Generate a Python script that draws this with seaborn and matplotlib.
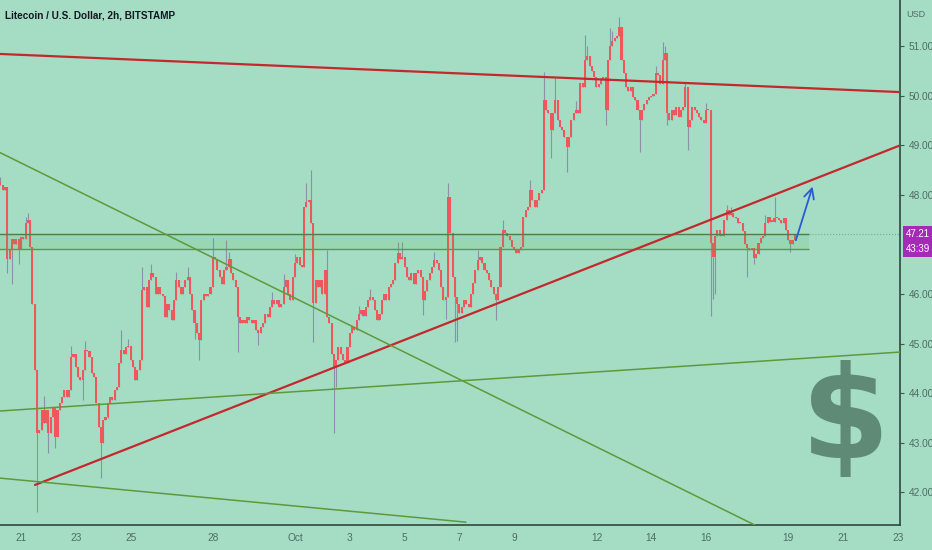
import numpy as np
import pandas as pd
import seaborn as sns
import matplotlib.pyplot as plt
import matplotlib.transforms as mtransforms

# LTC/USD 2h закрытия (с 20 сентября 06:00)
closes = [
    48.20, 48.10, 48.15, 46.70, 46.90, 47.10, 47.00, 47.10, 46.90, 47.15, 47.10, 47.43,
    47.50, 46.95, 45.80, 44.47, 43.20, 43.25, 43.66, 43.40, 43.66, 43.20, 43.52, 43.72,
    43.12, 43.66, 43.80, 43.92, 44.06, 43.92, 44.06, 44.73, 44.80, 44.53, 44.33, 44.27,
    44.47, 44.87, 44.85, 44.73, 44.40, 44.33, 43.80, 43.32, 43.00, 43.46, 43.52, 43.80,
    43.92, 43.86, 44.06, 44.12, 44.60, 44.87, 44.80, 44.93, 44.96, 44.67, 44.53, 44.27,
    44.47, 44.67, 46.08, 46.14, 45.74, 46.28, 46.42, 46.35, 46.00, 46.14, 46.00, 45.95,
    45.53, 45.80, 45.67, 45.47, 45.88, 46.28, 46.14, 46.00, 46.14, 46.28, 46.35, 46.00,
    45.67, 45.41, 45.21, 45.07, 45.88, 46.00, 45.95, 46.00, 46.14, 46.75, 46.70, 46.48,
    46.35, 46.20, 46.48, 46.55, 46.70, 46.42, 46.28, 46.14, 45.53, 45.41, 45.47, 45.41,
    45.53, 45.47, 45.41, 45.47, 45.27, 45.21, 45.34, 45.41, 45.60, 45.53, 45.74, 45.88,
    45.80, 45.88, 45.74, 45.80, 46.14, 46.28, 46.00, 45.88, 46.35, 46.62, 46.75, 46.58,
    46.55, 47.75, 47.86, 47.90, 47.43, 45.82, 46.28, 46.14, 46.28, 46.00, 46.48, 45.53,
    45.41, 44.80, 44.53, 44.67, 44.93, 44.80, 44.67, 44.60, 44.93, 45.21, 45.33, 45.27,
    45.47, 45.60, 45.68, 45.55, 45.74, 45.88, 45.94, 45.88, 45.68, 45.47, 45.60, 45.88,
    46.00, 45.88, 46.14, 46.20, 46.28, 46.62, 46.82, 46.70, 46.75, 46.55, 46.34, 46.28,
    46.42, 46.20, 46.42, 46.48, 46.34, 45.88, 46.07, 46.28, 46.42, 46.55, 46.68, 46.62,
    46.48, 46.14, 45.88, 45.94, 47.95, 47.23, 46.34, 45.94, 45.80, 45.62, 45.74, 45.88,
    45.80, 45.74, 46.00, 46.22, 46.48, 46.68, 46.75, 46.62, 46.48, 46.42, 46.28, 46.14,
    46.00, 45.88, 46.14, 46.95, 47.29, 47.22, 47.16, 47.09, 46.95, 46.89, 46.82, 46.89,
    46.95, 47.55, 47.69, 47.76, 48.10, 47.90, 47.76, 47.90, 48.03, 48.10, 49.91, 49.70,
    49.64, 49.30, 49.64, 49.91, 49.50, 49.37, 49.30, 49.17, 48.96, 49.17, 49.50, 49.64,
    49.70, 49.64, 50.25, 50.17, 50.72, 50.79, 50.60, 50.50, 50.38, 50.17, 50.24, 50.31,
    50.38, 49.70, 50.72, 51.00, 51.10, 51.17, 51.20, 51.39, 50.72, 50.45, 50.17, 50.10,
    50.17, 49.97, 49.91, 49.71, 49.50, 49.71, 49.84, 49.91, 49.97, 50.00, 50.04, 50.45,
    50.42, 50.24, 50.72, 50.86, 49.64, 49.50, 49.71, 49.60, 49.77, 49.57, 49.71, 49.77,
    50.17, 49.37, 49.50, 49.77, 49.71, 49.64, 49.57, 49.50, 49.44, 49.71, 49.71, 47.03,
    46.75, 47.16, 47.30, 47.16, 47.16, 47.49, 47.70, 47.60, 47.63, 47.56, 47.53, 47.43,
    47.43, 47.26, 47.00, 46.93, 46.89, 46.93, 46.73, 46.80, 47.03, 47.13, 47.16, 47.43,
    47.56, 47.46, 47.46, 47.53, 47.53, 47.49, 47.43, 47.53, 47.30, 47.09, 47.00, 47.09,
    47.21,
]
first_open = 48.25

# заметные тени свечей (индекс свечи -> цена)
wick_hi_idx = [0, 11, 12, 19, 31, 37, 53, 56, 62, 66, 77, 82, 93, 99, 100, 119, 124, 129,
               134, 136, 143, 157, 162, 174, 176, 190, 196, 209, 220, 232, 238, 243, 252,
               256, 257, 267, 268, 271, 287, 290, 291, 300, 309, 318, 320, 335, 339]
wick_hi_val = [48.35, 47.55, 47.63, 43.95, 44.95, 45.05, 45.27, 45.10, 46.55, 46.60, 46.45,
               46.55, 47.13, 47.09, 46.85, 46.05, 46.40, 46.80, 48.24, 48.50, 46.89, 45.75,
               46.10, 47.05, 47.05, 46.85, 48.24, 46.89, 47.49, 48.30, 50.48, 50.35, 49.90,
               51.22, 51.00, 51.36, 51.30, 51.58, 50.60, 51.08, 51.00, 50.25, 49.85, 47.80,
               47.75, 47.60, 47.96]
wick_lo_idx = [3, 5, 8, 16, 21, 24, 36, 44, 47, 85, 87, 104, 113, 137, 146, 147, 185, 195,
               199, 200, 217, 241, 248, 265, 280, 292, 301, 311, 312, 313, 327, 330, 346]
wick_lo_val = [46.42, 46.20, 46.60, 41.60, 42.80, 42.90, 43.86, 42.30, 43.50, 45.10, 44.67,
               44.83, 44.97, 45.03, 43.20, 44.12, 45.58, 45.50, 45.03, 45.05, 45.47, 48.74,
               48.46, 49.40, 48.86, 49.40, 48.90, 45.55, 45.90, 46.00, 46.34, 46.60, 46.85]

# подписи оси времени (дни от 21 сентября)
tick_days = [0, 2, 4, 7, 10, 12, 14, 16, 18, 21, 23, 25, 28, 30, 32]
tick_labels = ['21', '23', '25', '28', 'Oct', '3', '5', '7', '9', '12', '14', '16', '19', '21', '23']
price_ticks = [42, 43, 44, 45, 46, 48, 49, 50, 51]

# линии разметки (день, цена)
red_top_x, red_top_y = [-0.8, 32.1], [50.84, 50.07]
red_up_x, red_up_y = [0.51, 32.1], [42.15, 49.00]
green_steep_x, green_steep_y = [-0.8, 26.79], [48.86, 41.34]
green_flat_x, green_flat_y = [-0.8, 32.1], [43.64, 44.83]
green_low_x, green_low_y = [-0.8, 16.24], [42.29, 41.40]
zone_x, zone_y = [-0.8, 28.76], [46.91, 47.21]
arrow_from, arrow_to = (28.25, 47.03), (28.92, 48.22)
last_price = 47.21
countdown = '43:39'

bg = '#a4dcc4'
sns.set_theme(style='white')
plt.rcParams['font.family'] = ['Liberation Sans', 'DejaVu Sans']

times = pd.date_range('2018-09-20 06:00', periods=len(closes), freq='2h')
df = pd.DataFrame({'close': closes}, index=times)
df['day'] = (df.index - pd.Timestamp('2018-09-21')) / pd.Timedelta(days=1)
df['open'] = df['close'].shift(1).fillna(first_open)
df['high'] = df[['open', 'close']].max(axis=1)
df['low'] = df[['open', 'close']].min(axis=1)
pos = df.columns.get_loc
for i, v in zip(wick_hi_idx, wick_hi_val):
    df.iloc[i, pos('high')] = max(v, df.iloc[i, pos('high')])
for i, v in zip(wick_lo_idx, wick_lo_val):
    df.iloc[i, pos('low')] = min(v, df.iloc[i, pos('low')])

fig = plt.figure(figsize=(9.32, 5.5), dpi=100, facecolor=bg)
ax = fig.add_axes([0, 25 / 550, 900 / 932, 525 / 550])
ax.set_facecolor(bg)

# свечи
body = (df['close'] - df['open']).abs().clip(lower=0.025)
ax.vlines(df['day'], df['low'], df['high'], color='#8c90a8', lw=0.8, zorder=2)
ax.bar(df['day'], body, bottom=df[['open', 'close']].min(axis=1), width=0.075,
       color='#f0575a', linewidth=0, zorder=3)

# зона
ax.fill_between(zone_x, zone_y[0], zone_y[1], color='#4caf50', alpha=0.13, lw=0, zorder=4)
ax.hlines(zone_y[1], *zone_x, color='#4f7f45', lw=1.0, zorder=4)
ax.hlines(zone_y[0], *zone_x, color='#5c9c3c', lw=1.0, zorder=4)
ax.hlines(last_price, zone_x[1], 33, color='#7fa796', lw=0.8, ls=':', zorder=4)

# трендовые линии
for xs, ys, c, w in [(red_top_x, red_top_y, '#c3282c', 1.6),
                     (red_up_x, red_up_y, '#c3282c', 1.6),
                     (green_steep_x, green_steep_y, '#5f9a3a', 1.1),
                     (green_flat_x, green_flat_y, '#5f9a3a', 1.1),
                     (green_low_x, green_low_y, '#5f9a3a', 1.1)]:
    sns.lineplot(x=xs, y=ys, color=c, linewidth=w, ax=ax, zorder=5)

ax.annotate('', xy=arrow_to, xytext=arrow_from,
            arrowprops=dict(arrowstyle='->,head_length=0.6,head_width=0.3',
                            color='#2a5bd7', lw=1.3), zorder=6)

ax.text(0.939, 0.195, '$', transform=ax.transAxes, fontsize=92, fontweight='bold',
        color='#5f8b76', ha='center', va='center', family='DejaVu Sans')

ax.set_xlim(-0.766, 32.08)
ax.set_ylim(41.343, 51.927)
ax.set_xticks(tick_days)
ax.set_xticklabels(tick_labels)
ax.yaxis.tick_right()
ax.set_yticks(price_ticks)
ax.set_yticklabels([f'{p:.2f}' for p in price_ticks])
ax.tick_params(axis='both', direction='out', length=3, width=0.8, colors='#3c5a4c',
               labelsize=7.3, labelcolor='#4f6f60', pad=3)
for s in ['top', 'left']:
    ax.spines[s].set_visible(False)
for s in ['right', 'bottom']:
    ax.spines[s].set_color('#2e4a3c')
    ax.spines[s].set_linewidth(1.2)
ax.set_xlabel('')
ax.set_ylabel('')
ax.grid(False)

trans = mtransforms.blended_transform_factory(ax.transAxes, ax.transData)
ax.text(1.0065, last_price, f'{last_price:.2f}', transform=trans, color='white',
        fontsize=7, ha='left', va='center', clip_on=False, zorder=10,
        bbox=dict(boxstyle='square,pad=0.3', fc='#a42bb5', ec='none'))
ax.text(1.0065, 46.91, countdown, transform=trans, color='white',
        fontsize=7, ha='left', va='center', clip_on=False, zorder=10,
        bbox=dict(boxstyle='square,pad=0.3', fc='#a42bb5', ec='none'))
ax.text(1.018, 0.972, 'USD', transform=ax.transAxes, color='#4f6f60', fontsize=6.5,
        ha='center', va='center', clip_on=False)

fig.text(5 / 932, 1 - 15 / 550, 'Litecoin / U.S. Dollar, 2h, BITSTAMP', fontsize=7.2,
         fontweight='bold', color='#131722', ha='left', va='center')

fig.savefig('out.png', dpi=100, facecolor=bg)
